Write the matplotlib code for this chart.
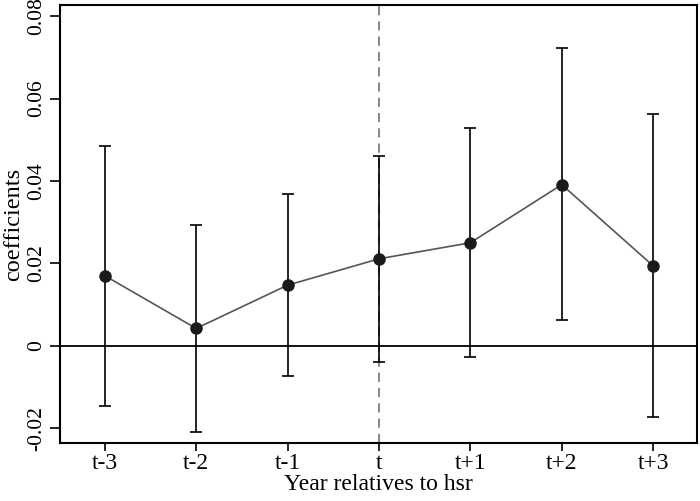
import matplotlib
matplotlib.use("Agg")
import matplotlib.pyplot as plt
import numpy as np

categories = ["t-3", "t-2", "t-1", "t", "t+1", "t+2", "t+3"]
coef = [0.0170, 0.0042, 0.0147, 0.0211, 0.0250, 0.0391, 0.0194]
upper = [0.0486, 0.0292, 0.0368, 0.0461, 0.0528, 0.0722, 0.0562]
lower = [-0.0146, -0.0209, -0.0074, -0.0040, -0.0028, 0.0062, -0.0174]
yticks = [-0.02, 0, 0.02, 0.04, 0.06, 0.08]
yticklabels = ["-0.02", "0", "0.02", "0.04", "0.06", "0.08"]

plt.rcParams['font.family'] = ['Liberation Serif', 'DejaVu Serif']

fig = plt.figure(figsize=(7.0, 5.01), dpi=100)
ax = fig.add_axes([60/700, 58/501, 637/700, 438/501])

x = np.arange(len(categories)) - 3
coef_a = np.array(coef)
yerr = np.vstack([coef_a - np.array(lower), np.array(upper) - coef_a])

ax.axhline(0, color='black', lw=1.3, zorder=1)
ax.axvline(0, color='#666666', lw=1.1, ls=(0, (6, 4)), zorder=1)
ax.errorbar(x, coef_a, yerr=yerr, fmt='none', ecolor='black', elinewidth=1.2,
            capsize=4, capthick=1.2, zorder=2)
ax.plot(x, coef_a, color='#555555', lw=1.2, zorder=3)
ax.plot(x, coef_a, 'o', color='#1a1a1a', ms=8, zorder=4)

ax.set_xlim(-3.49, 3.48)
ax.set_ylim(-0.0236, 0.0827)
ax.set_xticks(x)
ax.set_xticklabels(categories, fontsize=17)
ax.set_yticks(yticks)
ax.set_yticklabels(yticklabels, fontsize=15.5, rotation=90, va='center')
ax.tick_params(axis='x', direction='out', length=6, width=1.2, colors='black', pad=1)
ax.tick_params(axis='y', direction='out', length=7, width=1.2, colors='black', pad=3)
for s in ax.spines.values():
    s.set_linewidth(1.5)
ax.set_xlabel("Year relatives to hsr", fontsize=17, labelpad=0)
ax.set_ylabel("coefficients", fontsize=17.5, labelpad=2)

fig.savefig("out.png", dpi=100)
